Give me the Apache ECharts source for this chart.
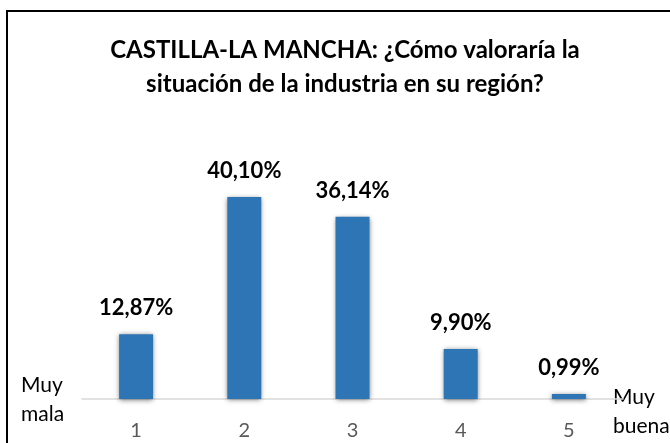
<!DOCTYPE html>
<html>
<head>
<meta charset="utf-8">
<script src="https://cdn.jsdelivr.net/npm/echarts@6/dist/echarts.min.js"></script>
<style>
html,body{margin:0;padding:0;background:#fff;}
#chart{width:670px;height:443px;}
</style>
</head>
<body>
<div id="chart"></div>
<script>
const titleLines = ['CASTILLA-LA MANCHA: ¿Cómo valoraría la', 'situación de la industria en su región?'];
const categories = ['1', '2', '3', '4', '5'];
const values = [12.87, 40.10, 36.14, 9.90, 0.99];
const lowEndLabel = 'Muy\nmala';
const highEndLabel = 'Muy\nbuena';

const chart = echarts.init(document.getElementById('chart'));
const font = 'Lato, "Open Sans", sans-serif';

chart.setOption({
  animation: false,
  title: {
    text: titleLines.join('\n'),
    left: 340,
    textAlign: 'center',
    top: 28,
    textStyle: { fontFamily: font, fontWeight: 'bold', fontSize: 24, color: '#000', lineHeight: 34 }
  },
  grid: { left: 82, right: 47, top: 147, bottom: 44 },
  xAxis: {
    type: 'category',
    data: categories,
    axisLine: { lineStyle: { color: '#d9d9d9', width: 1.5 } },
    axisTick: { show: false },
    axisLabel: { fontFamily: font, fontSize: 20, color: '#595959', margin: 22 }
  },
  yAxis: {
    type: 'value',
    min: 0,
    max: 50,
    show: false,
    splitLine: { show: false }
  },
  series: [{
    type: 'bar',
    data: values,
    barWidth: 34,
    itemStyle: {
      color: '#2E75B6',
      shadowColor: 'rgba(0,0,0,0.55)',
      shadowBlur: 5,
      shadowOffsetY: 1
    },
    label: {
      show: true,
      position: 'top',
      distance: 15,
      formatter: p => p.value.toFixed(2).replace('.', ',') + '%',
      fontFamily: font,
      fontWeight: 'bold',
      fontSize: 22,
      color: '#000'
    }
  }],
  graphic: [
    {
      type: 'rect',
      shape: { x: 7, y: 11, width: 700, height: 500 },
      style: { fill: 'none', stroke: '#000', lineWidth: 2 },
      silent: true
    },
    {
      type: 'text',
      left: 21,
      top: 371,
      style: { text: lowEndLabel, fontFamily: font, fontSize: 21, fill: '#000', lineHeight: 29 }
    },
    {
      type: 'text',
      left: 613,
      top: 383,
      style: { text: highEndLabel, fontFamily: font, fontSize: 21, fill: '#000', lineHeight: 29 }
    }
  ]
});
</script>
</body>
</html>
